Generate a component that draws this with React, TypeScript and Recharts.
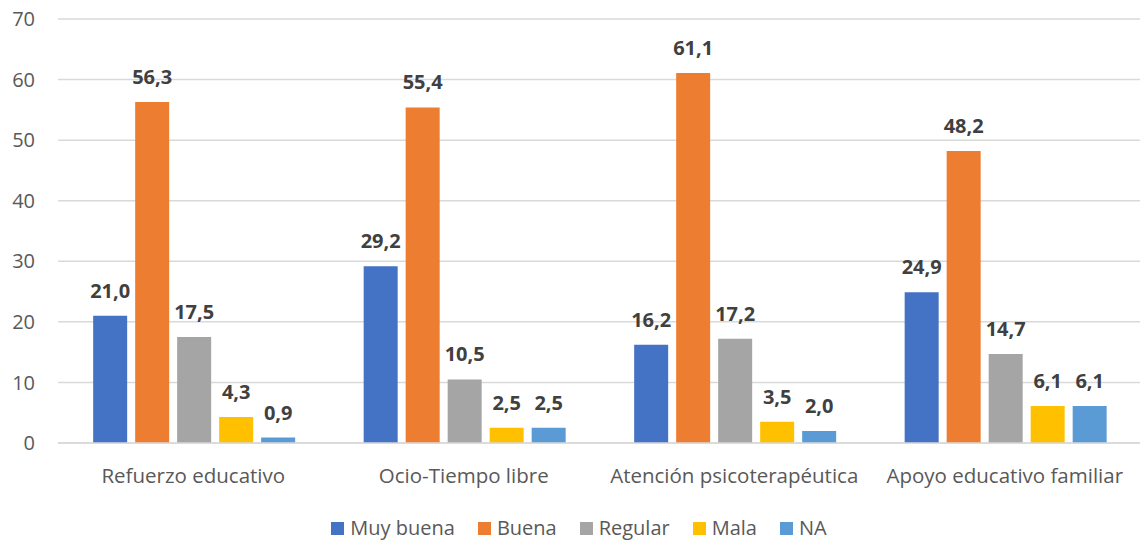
import React from "react";
import { BarChart, Bar, XAxis, YAxis, CartesianGrid, Legend, LabelList } from "recharts";

const categories = ["Refuerzo educativo", "Ocio-Tiempo libre", "Atención psicoterapéutica", "Apoyo educativo familiar"];
const muyBuena = [21.0, 29.2, 16.2, 24.9];
const buena = [56.3, 55.4, 61.1, 48.2];
const regular = [17.5, 10.5, 17.2, 14.7];
const mala = [4.3, 2.5, 3.5, 6.1];
const na = [0.9, 2.5, 2.0, 6.1];
const yTicks = [0, 10, 20, 30, 40, 50, 60, 70];

const seriesDefs = [
  { key: "muyBuena", name: "Muy buena", color: "#4472C4", values: muyBuena },
  { key: "buena", name: "Buena", color: "#ED7D31", values: buena },
  { key: "regular", name: "Regular", color: "#A5A5A5", values: regular },
  { key: "mala", name: "Mala", color: "#FFC000", values: mala },
  { key: "na", name: "NA", color: "#5B9BD5", values: na },
];

const data = categories.map((c, i) => {
  const row: any = { cat: c };
  seriesDefs.forEach((s) => (row[s.key] = s.values[i]));
  return row;
});

const FONT = "Open Sans, Noto Sans, sans-serif";
const fmt = (v: any) => Number(v).toFixed(1).replace(".", ",");

const LegendContent = () => (
  <div
    style={{
      height: 42,
      display: "flex",
      justifyContent: "center",
      alignItems: "center",
      paddingTop: 18,
      paddingLeft: 18,
      boxSizing: "border-box",
      fontFamily: FONT,
      fontSize: 20,
      color: "#595959",
    }}
  >
    {seriesDefs.map((s, i) => (
      <div key={s.key} style={{ display: "flex", alignItems: "center", marginLeft: i === 0 ? 0 : 23 }}>
        <div style={{ width: 13, height: 13, background: s.color, marginRight: 6 }} />
        <span style={{ lineHeight: "24px" }}>{s.name}</span>
      </div>
    ))}
  </div>
);

export default function App() {
  return (
    <div style={{ position: "absolute", left: 0, top: 0, width: 1142, height: 540, background: "#fff", fontFamily: FONT }}>
      <BarChart
        width={1142}
        height={540}
        data={data}
        margin={{ top: 19, right: 2, bottom: 0, left: 0 }}
        barCategoryGap="13%"
        barGap={8}
      >
        <CartesianGrid vertical={false} stroke="#D9D9D9" strokeWidth={1.5} />
        <XAxis
          dataKey="cat"
          axisLine={{ stroke: "#D9D9D9", strokeWidth: 1.5 }}
          tickLine={false}
          tickSize={0}
          tickMargin={25}
          tick={{ fill: "#595959", fontSize: 20.5, fontFamily: FONT }}
          height={55}
        />
        <YAxis
          domain={[0, 70]}
          ticks={yTicks}
          axisLine={false}
          tickLine={false}
          tickSize={0}
          tickMargin={23}
          width={58}
          tick={{ fill: "#595959", fontSize: 20, fontFamily: FONT }}
        />
        <Legend verticalAlign="bottom" height={42} content={<LegendContent />} />
        {seriesDefs.map((s) => (
          <Bar key={s.key} dataKey={s.key} name={s.name} fill={s.color} isAnimationActive={false}>
            <LabelList
              dataKey={s.key}
              position="top"
              offset={18}
              formatter={fmt}
              style={{ fill: "#404040", fontSize: 20, fontWeight: 700, fontFamily: FONT }}
            />
          </Bar>
        ))}
      </BarChart>
    </div>
  );
}
